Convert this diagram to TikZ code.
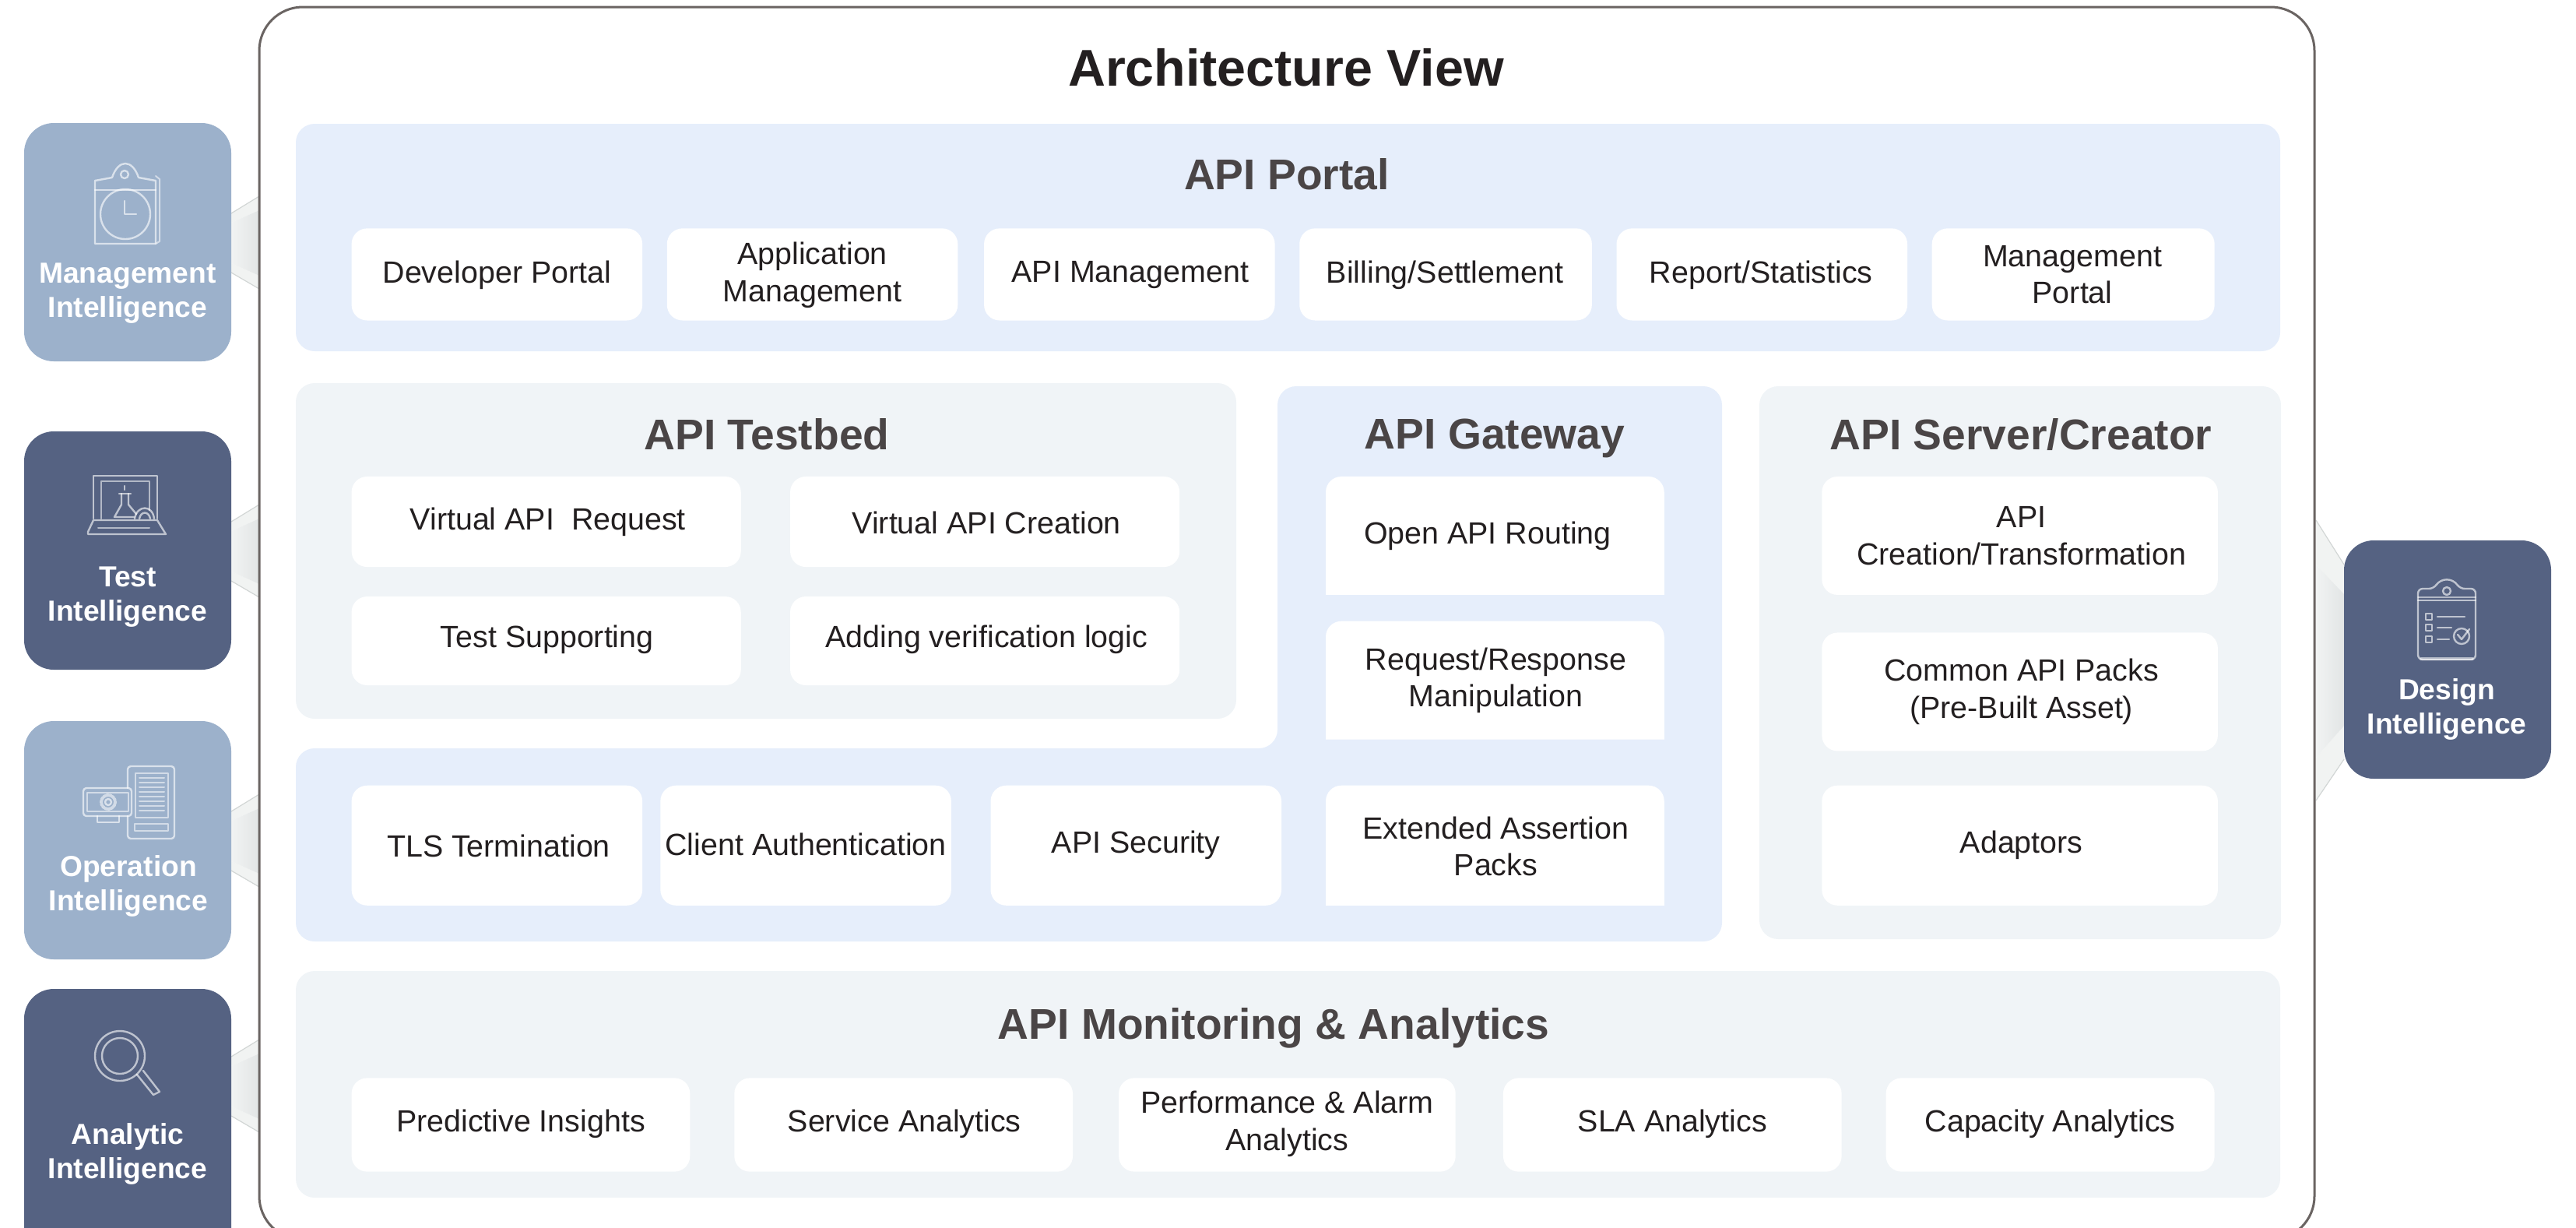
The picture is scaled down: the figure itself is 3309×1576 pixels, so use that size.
\documentclass[tikz,border=0pt]{standalone}
\usepackage{fontspec}
\setmainfont{Liberation Sans}
\definecolor{panelblue}{HTML}{E6EEFB}
\definecolor{panelgrey}{HTML}{F0F4F7}
\definecolor{navy}{HTML}{556282}
\definecolor{steel}{HTML}{9CB1CB}
\definecolor{bodyink}{HTML}{231F20}
\definecolor{headink}{HTML}{4A4546}
\definecolor{frameink}{HTML}{6A6462}
\definecolor{F2}{HTML}{F1F3F3}
\definecolor{E1}{HTML}{E2E5E5}
\definecolor{D8}{HTML}{D2D6D5}
\definecolor{W1}{HTML}{F1F3F2}
\tikzset{
 cellbox/.style={fill=white,rounded corners=10pt,inner sep=0pt,outer sep=0pt},
 celltext/.style={font=\fontsize{19.7}{23.7}\selectfont,text=bodyink,align=center,inner sep=0pt},
 heading/.style={font=\fontsize{27.6}{32}\selectfont\bfseries,text=headink,inner sep=0pt},
 sidebox/.style={rounded corners=19pt,inner sep=0pt},
 sidetext/.style={font=\fontsize{18.6}{22}\selectfont\bfseries,text=white,align=center,inner sep=0pt},
 ico/.style={draw=white,line width=1.2pt,opacity=.62,line join=round,line cap=round},
 icosoft/.style={draw=white,line width=1pt,opacity=.55,line join=round,line cap=round},
}
% cell: name x1 y1 x2 y2 textx texty text (reference shrunk units)
\newcommand\cellb[8]{%
 \path[cellbox] (#2,#3) rectangle (#4,#5);
 \node[celltext] (#1) at (#6,#7) {#8};}
\newcommand\gatecell[8]{%
 \fill[white] (#2,#5) [rounded corners=10pt] -- (#2,#3) -- (#4,#3) [sharp corners] -- (#4,#5) -- cycle;
 \node[celltext] (#1) at (#6,#7) {#8};}
\newcommand\wedges[3]{%
 \fill[#3] (#1,{#2+116}) -- (333,{#2+94}) -- (333,{#2+112}) -- (297,{#2+128}) -- cycle;
 \fill[#3] (#1,{#2+180}) -- (333,{#2+196}) -- (333,{#2+213}) -- (297,{#2+192}) -- cycle;
 \shade[left color=F2,right color=E1] (297,{#2+128}) -- (333,{#2+112}) -- (333,{#2+196}) -- (297,{#2+180}) -- cycle;
 \draw[color=D8,line width=.6pt] (#1,{#2+116}) -- (333,{#2+94});
 \draw[color=D8,line width=.6pt] (#1,{#2+192}) -- (333,{#2+213});
}
\begin{document}
\begin{tikzpicture}[x=.5pt,y=-.5pt]
\useasboundingbox (0,0) rectangle (3309,1576);
\clip (0,0) rectangle (3309,1576);
% wedges between side boxes and frame
\wedges{297}{158}{W1}
\wedges{297}{554}{W1}
\wedges{297}{926}{W1}
\wedges{297}{1241}{W1}
\fill[W1] (3011,725) -- (2975,668) -- (2975,725) -- (3011,763) -- cycle;
\fill[W1] (3011,932) -- (2975,973) -- (2975,1028) -- (3011,975) -- cycle;
\shade[left color=F2,right color=E1] (2975,725) -- (3011,763) -- (3011,932) -- (2975,973) -- cycle;
\draw[color=D8,line width=.6pt] (3011,725) -- (2975,668);
\draw[color=D8,line width=.6pt] (3011,975) -- (2975,1028);
% frame
\draw[frameink,line width=1.5pt,rounded corners=28pt] (333,9) rectangle (2973,1592);
\node[font=\fontsize{33.2}{40}\selectfont\bfseries,text=bodyink,inner sep=0pt] (title) at (1652,87) {Architecture View};
% panels
\fill[panelblue,rounded corners=12pt] (380,159) rectangle (2929,451);
\fill[panelgrey,rounded corners=12pt] (380,492) rectangle (1588,923);
\fill[panelblue,rounded corners=12pt] (1641,496) -- (2212,496) -- (2212,1209) -- (380,1209) -- (380,961) -- (1641,961) -- cycle;
\fill[panelgrey,rounded corners=12pt] (2260,496) rectangle (2930,1206);
\fill[panelgrey,rounded corners=12pt] (380,1247) rectangle (2929,1538);
\node[heading] (hportal) at (1653,224) {API Portal};
\node[heading] (htest) at (985,558) {API Testbed};
\node[heading] (hgate) at (1920,563) {API Gateway};
\node[heading] (hserver) at (2596,558) {API Server/Creator};
\node[heading] (hmon) at (1636,1320) {API Monitoring \& Analytics};
% cells, in reference shrunk units
\begin{scope}[x=1.05515pt,y=-1.05515pt]
\cellb{c1}{214}{139}{391}{195}{302.5}{167.5}{Developer Portal}
\cellb{c2}{406}{139}{583}{195}{494.5}{167.5}{Application\\Management}
\cellb{c3}{599}{139}{776}{195}{688}{167.5}{API Management}
\cellb{c4}{791}{139}{969}{195}{879.5}{167.5}{Billing/Settlement}
\cellb{c5}{984}{139}{1161}{195}{1072}{167.5}{Report/Statistics}
\cellb{c6}{1176}{139}{1348}{195}{1261.5}{167}{Management\\Portal}
\cellb{t1}{214}{290}{451}{345}{333.5}{317.5}{Virtual API\ \ Request}
\cellb{t2}{481}{290}{718}{345}{600.5}{318}{Virtual API Creation}
\cellb{t3}{214}{363}{451}{417}{333}{389}{Test Supporting}
\cellb{t4}{481}{363}{718}{417}{600.5}{389}{Adding verification logic}
\cellb{l1}{214}{478}{391}{551}{303.5}{515}{TLS Termination}
\cellb{l2}{402}{478}{579}{551}{490.5}{514}{Client Authentication}
\cellb{l3}{603}{478}{780}{551}{691.5}{514.5}{API Security}
\gatecell{g1}{807}{290}{1013}{362}{905.5}{326}{Open API Routing}
\gatecell{g2}{807}{378}{1013}{450}{910.5}{414}{Request/Response\\Manipulation}
\gatecell{g3}{807}{478}{1013}{551}{910.5}{515}{Extended Assertion\\Packs}
\cellb{s1}{1109}{290}{1350}{362}{1230.5}{326}{API\\Creation/Transformation}
\cellb{s2}{1109}{385}{1350}{457}{1230.5}{421}{Common API Packs\\(Pre-Built Asset)}
\cellb{s3}{1109}{478}{1350}{551}{1230.5}{514.5}{Adaptors}
\cellb{m1}{214}{656}{420}{713}{317}{684}{Predictive Insights}
\cellb{m2}{447}{656}{653}{713}{550.5}{684}{Service Analytics}
\cellb{m3}{681}{656}{886}{713}{783.5}{684}{Performance \& Alarm\\Analytics}
\cellb{m4}{915}{656}{1121}{713}{1018}{684}{SLA Analytics}
\cellb{m5}{1148}{656}{1348}{713}{1248}{684}{Capacity Analytics}
\end{scope}
% side boxes
\fill[steel,sidebox] (31,158) rectangle (297,464);
\fill[navy,sidebox] (31,554) rectangle (297,860);
\fill[steel,sidebox] (31,926) rectangle (297,1232);
\fill[navy,sidebox] (31,1270) rectangle (297,1620);
\fill[navy,sidebox] (3011,694) rectangle (3277,1000);
\node[sidetext] (smg) at (164,377) {Management\\Intelligence};
\node[sidetext] (ste) at (164,767) {Test\\Intelligence};
\node[sidetext] (sop) at (165,1138) {Operation\\Intelligence};
\node[sidetext] (san) at (164,1482) {Analytic\\Intelligence};
\node[sidetext] (sde) at (3143,911) {Design\\Intelligence};
% management icon
\draw[ico] (122,232) -- (122,313) -- (200,313) -- (200,232) -- (178,228) .. controls (170,204) and (152,204) .. (144,228) -- cycle;
\draw[ico] (122,244) -- (200,244);
\draw[icosoft] (200,226) -- (205,230) -- (205,310) -- (200,313);
\draw[ico] (160,224) circle (5);
\draw[ico] (161,275) circle (32);
\draw[ico] (160,258) -- (160,275) -- (175,275);
% test icon
\draw[ico] (120,666) -- (120,611) -- (202,611) -- (202,666);
\draw[icosoft] (130,666) -- (130,618) -- (192,618) -- (192,655);
\draw[ico] (120,668) -- (113,683) -- (113,686) -- (213,686) -- (202,668) -- cycle;
\draw[icosoft] (126,678) -- (192,678);
\draw[ico] (156,634) -- (156,648) -- (147,664) -- (172,664);
\draw[ico] (165,634) -- (165,648) -- (175,660);
\draw[ico] (153,634) -- (168,634);
\draw[ico] (160,624) -- (160,629);
\draw[ico] (173,666) .. controls (176,648) and (196,648) .. (198,666);
\draw[ico] (179,666) .. controls (181,656) and (191,656) .. (193,666);
% operation icon
\draw[ico,rounded corners=2pt] (164,1012) -- (164,984) -- (224,984) -- (224,1077) -- (164,1077) -- (164,1048);
\draw[icosoft] (174,993) rectangle (216,1050);
\foreach \yy in {999,1005,1011,1017,1023,1029,1035,1041}{\draw[icosoft] (179,\yy) -- (211,\yy);}
\draw[icosoft] (173,1058) rectangle (216,1067);
\draw[ico,rounded corners=2pt] (107,1012) rectangle (169,1048);
\draw[icosoft] (112,1018) rectangle (165,1042);
\draw[ico] (125,1048) -- (125,1056) -- (153,1056) -- (153,1048);
\draw[ico] (139,1030) circle (4);
\draw[icosoft,densely dotted,line width=2pt] (139,1030) circle (9);
% analytic icon
\draw[ico] (154,1356) circle (32);
\draw[ico] (154,1356) circle (23);
\draw[ico] (176,1380) -- (197,1406) -- (205,1402) -- (184,1375);
% design icon
\draw[ico,rounded corners=3pt] (3106,778) -- (3106,847) -- (3180,847) -- (3180,756) -- (3160,756) .. controls (3150,742) and (3136,742) .. (3126,756) -- (3106,756) -- cycle;
\draw[ico] (3106,771) -- (3180,771);
\draw[icosoft] (3106,767) -- (3180,767);
\draw[icosoft,line width=1.8pt] (3110,846) -- (3176,846);
\draw[ico] (3143,759) circle (5);
\draw[ico] (3116,788) rectangle (3124,796);
\draw[ico] (3116,802) rectangle (3124,810);
\draw[ico] (3116,817) rectangle (3124,825);
\draw[ico] (3131,792) -- (3166,792);
\draw[ico] (3131,806) -- (3149,806);
\draw[ico] (3131,821) -- (3146,821);
\draw[ico] (3162,817) circle (10);
\draw[ico] (3157,815) -- (3162,821) -- (3172,808);
\end{tikzpicture}
\end{document}
